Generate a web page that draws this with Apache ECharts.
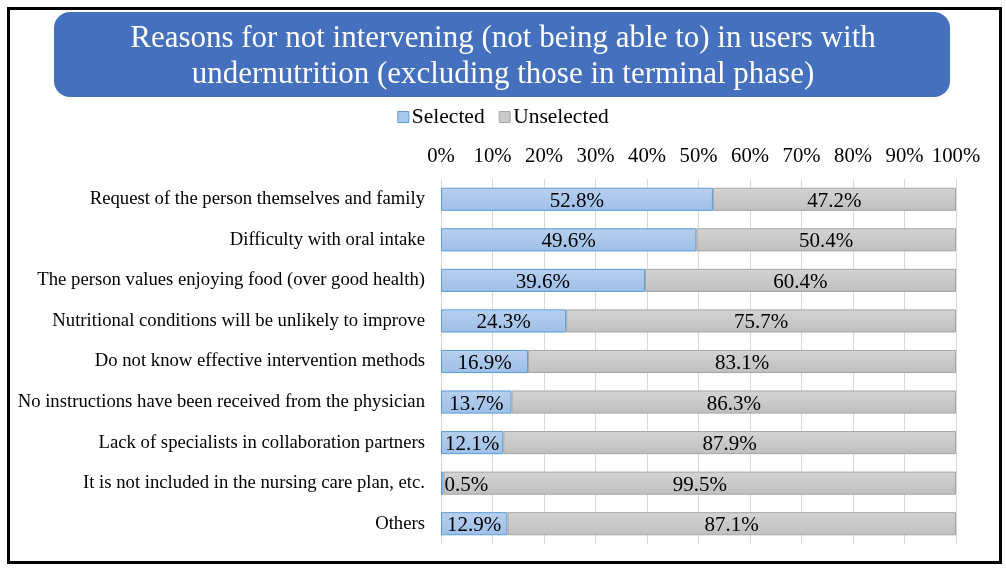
<!DOCTYPE html>
<html><head><meta charset="utf-8">
<script src="https://cdn.jsdelivr.net/npm/echarts@6/dist/echarts.min.js"></script>
<style>html,body{margin:0;padding:0;background:#fff}#c{width:1006px;height:568px}</style>
</head><body><div id="c"></div>
<script>
const categories = [
  "Request of the person themselves and family",
  "Difficulty with oral intake",
  "The person values enjoying food (over good health)",
  "Nutritional conditions will be unlikely to improve",
  "Do not know effective intervention methods",
  "No instructions have been received from the physician",
  "Lack of specialists in collaboration partners",
  "It is not included in the nursing care plan, etc.",
  "Others"
];
const selected = [52.8, 49.6, 39.6, 24.3, 16.9, 13.7, 12.1, 0.5, 12.9];
const unselected = [47.2, 50.4, 60.4, 75.7, 83.1, 86.3, 87.9, 99.5, 87.1];
const tickLabels = ["0%","10%","20%","30%","40%","50%","60%","70%","80%","90%","100%"];
const titleText = "Reasons for not intervening (not being able to) in users with\nundernutrition (excluding those in terminal phase)";

const FONT = "'Liberation Serif','Times New Roman',serif";
const chart = echarts.init(document.getElementById('c'), null, {renderer:'canvas'});
const blueFill = new echarts.graphic.LinearGradient(0,0,0,1,[{offset:0,color:'#b8d0ee'},{offset:1,color:'#9dbfe8'}]);
const grayFill = new echarts.graphic.LinearGradient(0,0,0,1,[{offset:0,color:'#d4d4d4'},{offset:1,color:'#bfbfbf'}]);

chart.setOption({
  animation:false,
  backgroundColor:'#fff',
  graphic:[
    {type:'rect', left:6, top:6, shape:{width:992, height:554}, style:{fill:'none', stroke:'#000', lineWidth:3}, z:100},
    {type:'rect', left:54, top:12, shape:{width:896, height:85, r:16}, style:{fill:'#4470bd'}, z:1},
    {type:'text', left:'center', top:21, style:{text:titleText, fill:'#fff', font:"31px "+FONT, textAlign:'center', lineHeight:36}, z:2}
  ],
  legend:{
    top:101, left:'center', itemWidth:11, itemHeight:11, itemGap:14,
    textStyle:{fontFamily:FONT, fontSize:21.5, color:'#000', padding:[0,0,0,-2]},
    data:[
      {name:'Selected', icon:'rect', itemStyle:{color:'#a8c7ec', borderColor:'#5b9bd5', borderWidth:1}},
      {name:'Unselected', icon:'rect', itemStyle:{color:'#cacaca', borderColor:'#a5a5a5', borderWidth:1}}
    ]
  },
  grid:{left:441, right:50, top:179, bottom:24, containLabel:false},
  xAxis:{
    type:'value', position:'top', min:0, max:100, interval:10,
    axisLine:{show:false}, axisTick:{show:false},
    splitLine:{show:true, lineStyle:{color:'#d9d9d9', width:1}},
    axisLabel:{formatter:(v)=>tickLabels[Math.round(v/10)], fontFamily:FONT, fontSize:20.7, color:'#000', margin:12}
  },
  yAxis:{
    type:'category', data:categories, inverse:true,
    axisLine:{show:false}, axisTick:{show:false},
    axisLabel:{fontFamily:FONT, fontSize:18.7, color:'#000', margin:16, padding:[7,0,0,0]}
  },
  series:[
    {name:'Selected', type:'bar', stack:'t', barWidth:'57%',
     itemStyle:{color:blueFill, borderColor:'#5b9bd5', borderWidth:1},
     label:{show:true, position:'inside', offset:[0,2], formatter:(p)=>p.value.toFixed(1)+'%', fontFamily:FONT, fontSize:21, color:'#000'},
     data:selected.map((v,i)=> v<2 ? {value:v, label:{position:'right', distance:1}} : v)
    },
    {name:'Unselected', type:'bar', stack:'t', barWidth:'57%',
     itemStyle:{color:grayFill, borderColor:'#a5a5a5', borderWidth:1},
     label:{show:true, position:'inside', offset:[0,2], formatter:(p)=>p.value.toFixed(1)+'%', fontFamily:FONT, fontSize:21, color:'#000'},
     data:unselected
    }
  ]
});
</script></body></html>
